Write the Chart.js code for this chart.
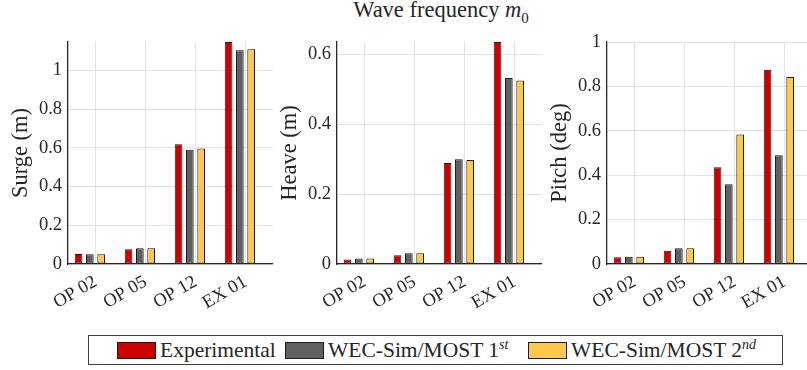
<!DOCTYPE html>
<html>
<head>
<meta charset="utf-8">
<script src="https://cdn.jsdelivr.net/npm/chart.js@4"></script>
<style>
  body { margin: 0; width: 807px; height: 370px; overflow: hidden; position: relative; background: #fff; font-family: 'Liberation Serif', serif; color: #262626; }
  canvas { position: absolute; top: 0; }
  #title { position: absolute; left: 441px; top: -1px; transform: translateX(-50%); font-size: 22.5px; line-height: 1; white-space: nowrap; }
  #title sub { font-size: 15px; }
  #legend { position: absolute; left: 88px; top: 335px; width: 695px; height: 30px; box-sizing: border-box; border: 1px solid #404040; display: flex; align-items: center; padding-left: 28px; font-size: 21.5px; white-space: nowrap; }
  .item { display: flex; align-items: center; flex: none; }
  .item:nth-child(1) { width: 168px; }
  .item:nth-child(2) { width: 243px; }
  .swatch { width: 39px; height: 17px; box-sizing: border-box; border: 1px solid #1a1a1a; margin-right: 4px; }
  .item sup { font-size: 14px; font-style: italic; }
</style>
</head>
<body>
<div id="title">Wave frequency <i>m</i><sub>0</sub></div>
<canvas id="surge" width="273" height="320" style="left:0px"></canvas>
<canvas id="heave" width="273" height="320" style="left:269px"></canvas>
<canvas id="pitch" width="273" height="320" style="left:539px"></canvas>
<div id="legend"></div>
<script>
var categories = ['OP 02', 'OP 05', 'OP 12', 'EX 01']
var seriesLabels = ['Experimental', 'WEC-Sim/MOST 1', 'WEC-Sim/MOST 2']
var seriesOrdinals = ['', 'st', 'nd']
var seriesColors = ['#cc0000', '#606060', '#ffc84a']

var surgeExp  = [0.052, 0.076, 0.619, 1.147]
var surgeSim1 = [0.050, 0.081, 0.590, 1.105]
var surgeSim2 = [0.050, 0.081, 0.597, 1.110]

var heaveExp  = [0.013, 0.025, 0.289, 0.636]
var heaveSim1 = [0.016, 0.031, 0.300, 0.533]
var heaveSim2 = [0.016, 0.031, 0.298, 0.526]

var pitchExp  = [0.030, 0.060, 0.436, 0.875]
var pitchSim1 = [0.033, 0.071, 0.359, 0.490]
var pitchSim2 = [0.033, 0.071, 0.583, 0.842]

var yTicks = [0, 0.2, 0.4, 0.6, 0.8, 1]

const textColor = '#262626'
const gridColor = '#e3e3e3'
const axisColor = '#262626'
const fam = "'Liberation Serif', serif"

Chart.defaults.font.family = fam
Chart.defaults.color = textColor

function makeChart(id, yTitle, series, yMax) {
    const datasets = series.map((vals, k) => ({
        label: seriesLabels[k] + seriesOrdinals[k],
        data: vals.map((v, i) => ({x: i, y: v})),
        backgroundColor: seriesColors[k],
        borderColor: '#1a1a1a',
        borderWidth: 1,
        borderSkipped: false
    }))
    // empty slot after the three bars, matlab leaves the group off-centre
    datasets.push({label: '', data: categories.map((c, i) => ({x: i, y: null}))})

    new Chart(document.getElementById(id), {
        type: 'bar',
        data: {datasets: datasets},
        options: {
            responsive: false,
            animation: false,
            categoryPercentage: 0.904,
            barPercentage: 0.68,
            layout: {padding: {top: 42, left: 0, right: 0, bottom: 0}},
            scales: {
                x: {
                    type: 'linear',
                    min: -0.55,
                    max: 3.55,
                    offset: false,
                    grid: {color: gridColor, drawTicks: false, offset: false},
                    border: {color: axisColor, width: 1.3},
                    ticks: {
                        stepSize: 1,
                        includeBounds: false,
                        autoSkip: false,
                        minRotation: 30,
                        maxRotation: 30,
                        padding: 7,
                        font: {size: 18.5},
                        color: textColor,
                        callback: v => categories[v] === undefined ? '' : categories[v]
                    },
                    afterFit: s => { s.height = 56 }
                },
                y: {
                    min: 0,
                    max: yMax,
                    grid: {color: gridColor, drawTicks: false},
                    border: {color: axisColor, width: 1.3},
                    afterBuildTicks: s => { s.ticks = yTicks.filter(t => t <= yMax).map(t => ({value: t})) },
                    ticks: {padding: 6, font: {size: 18.5}, color: textColor, callback: v => String(v)},
                    title: {display: true, text: yTitle, font: {size: 22.5}, color: textColor, padding: 7.5},
                    afterFit: s => { s.width = 68 }
                }
            },
            plugins: {
                legend: {display: false},
                tooltip: {enabled: false}
            }
        }
    })
}

makeChart('surge', 'Surge (m)', [surgeExp, surgeSim1, surgeSim2], 1.147)
makeChart('heave', 'Heave (m)', [heaveExp, heaveSim1, heaveSim2], 0.636)
makeChart('pitch', 'Pitch (deg)', [pitchExp, pitchSim1, pitchSim2], 1)

const legend = document.getElementById('legend')
for (let k = 0; k < seriesLabels.length; k++) {
    const item = document.createElement('div')
    item.className = 'item'
    const sw = document.createElement('div')
    sw.className = 'swatch'
    sw.style.background = seriesColors[k]
    const txt = document.createElement('span')
    txt.textContent = seriesLabels[k]
    if (seriesOrdinals[k]) {
        const sup = document.createElement('sup')
        sup.textContent = seriesOrdinals[k]
        txt.appendChild(sup)
    }
    item.appendChild(sw)
    item.appendChild(txt)
    legend.appendChild(item)
}
</script>
</body>
</html>
